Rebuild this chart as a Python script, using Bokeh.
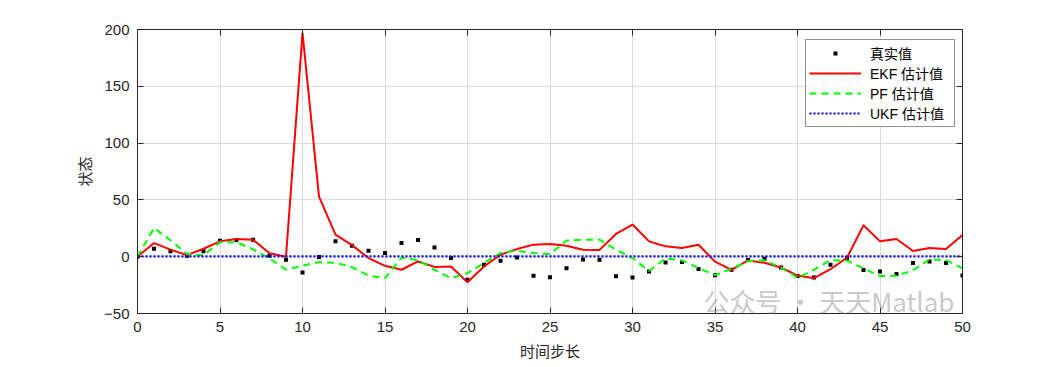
from bokeh.plotting import figure
from bokeh.models import Range1d, FixedTicker, LinearAxis, Legend, LegendItem, Label
from bokeh.embed import file_html
from bokeh.resources import INLINE

steps = list(range(51))
true_vals = [0, 7, 4.7, 0.9, 4.7, 14.1, 14.7, 15.0, 0.9, -2.7,
             -13.9, -0.3, 13.5, 9.7, 5.3, 3.2, 12.1, 14.7, 8.2, -1.2,
             -20.4, -7.1, -3.5, -0.6, -16.8, -18.0, -10.1, -2.4, -2.7, -17.2,
             -18.3, -13.0, -5.0, -4.7, -10.8, -16.3, -11.5, -2.8, -1.8, -9.5,
             -17.0, -18.3, -7.0, -1.3, -11.8, -13.0, -15.2, -5.6, -4.2, -5.5,
             -16.5]
ekf_vals = [0, 12, 6.2, 1.4, 7, 13.5, 15.6, 15, 3, 0,
            197, 52.8, 19.4, 10.2, -1.2, -8, -11.5, -4.2, -9, -8.6,
            -22.5, -8.6, 1.8, 6.7, 10.6, 11.2, 9.7, 6.2, 6.0, 20,
            28.3, 13.5, 9.1, 7.6, 10.5, -4.3, -11.6, -3.3, -5.3, -9.5,
            -16.6, -18.9, -11, -0.9, 27.7, 13.5, 15.6, 5, 7.6, 6.7,
            19]
pf_vals = [0, 25.3, 14.5, 2.5, 1.2, 12.8, 12.8, 6.5, -1.5, -11.5,
           -8, -4.8, -5.3, -9.3, -16.6, -18.9, -0.8, -3, -11.5, -18.9,
           -14.5, -5.6, 3.2, 5.3, 3.2, 2.3, 14.2, 15, 15, 6.2,
           -1.2, -12.6, -1.5, -3.2, -10, -16.2, -10.6, -4, -3.2, -9.5,
           -18.5, -11.5, -3, -3.5, -10.3, -17, -16.8, -12, -2.4, -3,
           -10.3]
ukf_vals = [0.3, 0.3, 0.3, 0.3, 0.3, 0.3, 0.3, 0.3, 0.3, 0.3,
            0.3, 0.3, 0.3, 0.3, 0.3, 0.3, 0.3, 0.3, 0.3, 0.3,
            0.3, 0.3, 0.3, 0.3, 0.3, 0.3, 0.3, 0.3, 0.3, 0.3,
            0.3, 0.3, 0.3, 0.3, 0.3, 0.3, 0.3, 0.3, 0.3, 0.3,
            0.3, 0.3, 0.3, 0.3, 0.3, 0.3, 0.3, 0.3, 0.3, 0.3,
            0.3]
x_ticks = [0, 5, 10, 15, 20, 25, 30, 35, 40, 45, 50]
y_ticks = [-50, 0, 50, 100, 150, 200]
labels = ["真实值", "EKF 估计值", "PF 估计值", "UKF 估计值"]
watermark = "公众号 · 天天Matlab"

FONT = "Liberation Sans, Arial, 'Noto Sans CJK SC'"
CJK = "'Noto Sans CJK SC'"
AX = "#262626"

p = figure(width=1047, height=363, output_backend="svg", toolbar_location=None,
           x_range=Range1d(0, 50), y_range=Range1d(-50, 200),
           min_border_left=137, min_border_right=85, min_border_top=29, min_border_bottom=46)
p.background_fill_color = "white"
p.border_fill_color = "white"
p.outline_line_color = AX
p.outline_line_width = 1

for ax in (p.xaxis[0], p.yaxis[0]):
    ax.major_tick_in = 6
    ax.major_tick_out = 0
    ax.minor_tick_line_color = None
    ax.axis_line_color = AX
    ax.major_tick_line_color = AX
    ax.major_label_text_font = FONT
    ax.major_label_text_font_size = "15px"
    ax.major_label_text_color = AX
    ax.axis_label_text_font = CJK
    ax.axis_label_text_font_size = "15px"
    ax.axis_label_text_font_style = "normal"
    ax.axis_label_text_color = AX

p.xaxis[0].ticker = FixedTicker(ticks=x_ticks)
p.yaxis[0].ticker = FixedTicker(ticks=y_ticks)
p.xaxis[0].axis_label = "时间步长"
p.yaxis[0].axis_label = "状态"
p.xaxis[0].major_label_standoff = 8
p.xaxis[0].axis_label_standoff = 5
p.yaxis[0].major_label_standoff = 8
p.yaxis[0].axis_label_standoff = 6

top = LinearAxis(ticker=FixedTicker(ticks=x_ticks), major_label_text_color=None,
                 major_label_text_font_size="10px",
                 major_tick_in=6, major_tick_out=0, minor_tick_line_color=None,
                 axis_line_color=AX, major_tick_line_color=AX)
right = LinearAxis(ticker=FixedTicker(ticks=y_ticks), major_label_text_color=None,
                   major_label_text_font_size="10px",
                   major_tick_in=6, major_tick_out=0, minor_tick_line_color=None,
                   axis_line_color=AX, major_tick_line_color=AX)
p.add_layout(top, "above")
p.add_layout(right, "right")

p.xgrid.ticker = FixedTicker(ticks=x_ticks)
p.ygrid.ticker = FixedTicker(ticks=y_ticks)
p.grid.grid_line_color = "#dcdcdc"
p.grid.grid_line_width = 1

r_true = p.scatter(steps, true_vals, marker="square", size=4, fill_color="black", line_color=None)
r_ekf = p.line(steps, ekf_vals, line_color="#ff0000", line_width=2)
r_pf = p.line(steps, pf_vals, line_color="#00ff00", line_width=2, line_dash="7 5")
r_ukf = p.line(steps, ukf_vals, line_color="#0000ff", line_width=2.2, line_dash="2 2")

legend = Legend(items=[LegendItem(label=labels[0], renderers=[r_true]),
                       LegendItem(label=labels[1], renderers=[r_ekf]),
                       LegendItem(label=labels[2], renderers=[r_pf]),
                       LegendItem(label=labels[3], renderers=[r_ukf])],
                location=(668, 186), orientation="vertical")
legend.label_text_font = FONT
legend.label_text_font_size = "14px"
legend.label_text_color = "black"
legend.label_height = 20
legend.label_width = 81
legend.glyph_height = 10
legend.glyph_width = 52
legend.label_standoff = 9
legend.spacing = 0
legend.padding = 3
legend.margin = 0
legend.border_line_color = AX
legend.border_line_width = 1
legend.background_fill_color = "white"
legend.background_fill_alpha = 1
p.add_layout(legend, "center")

wm = Label(x=566, y=13, x_units="screen", y_units="screen", text=watermark,
           text_font=CJK, text_font_size="26px",
           text_color="#9a9a9a", text_alpha=0.55, text_baseline="middle")
p.add_layout(wm)

open("out.html", "w").write(file_html(p, INLINE))
